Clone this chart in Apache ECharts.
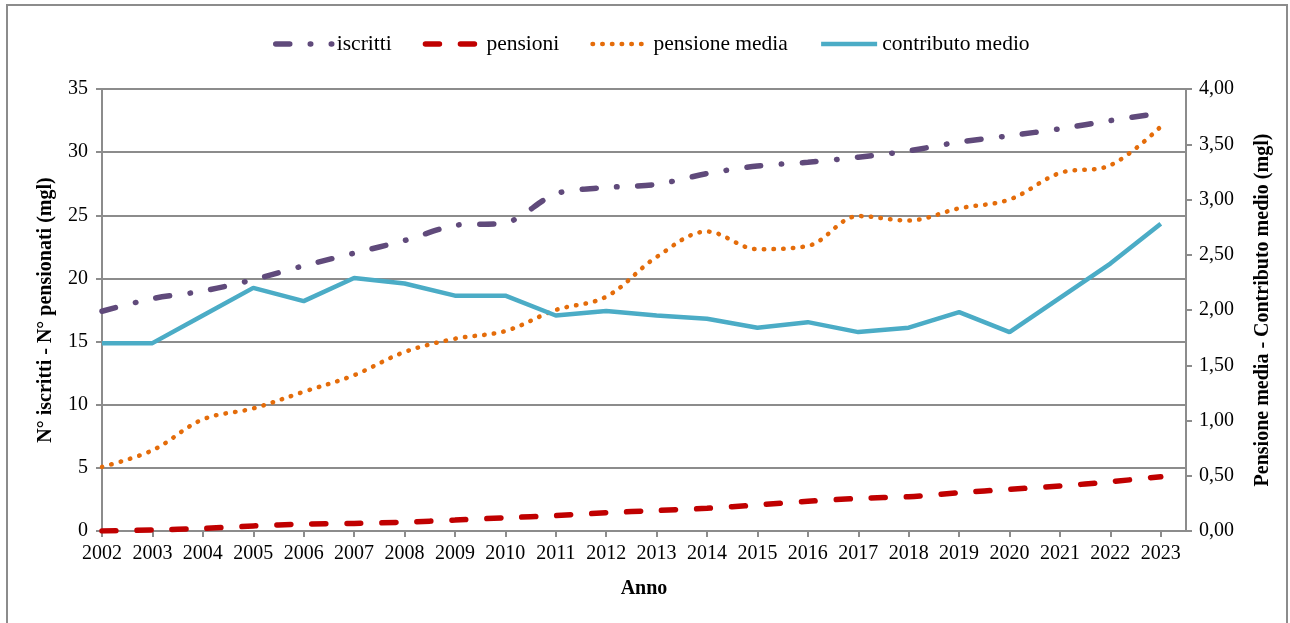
<!DOCTYPE html>
<html>
<head>
<meta charset="utf-8">
<script src="https://cdn.jsdelivr.net/npm/echarts@6/dist/echarts.min.js"></script>
<style>
html,body{margin:0;padding:0;background:#fff;}
#chart{width:1290px;height:623px;}
</style>
</head>
<body>
<div id="chart"></div>
<script>
var years = [2002,2003,2004,2005,2006,2007,2008,2009,2010,2011,2012,2013,2014,2015,2016,2017,2018,2019,2020,2021,2022,2023];
var iscritti = [17.4,18.4,19.0,19.9,21.0,22.0,23.0,24.2,24.4,26.7,27.2,27.45,28.3,28.9,29.2,29.6,30.1,30.8,31.3,31.85,32.5,33.1];
var pensioni = [0.0,0.08,0.2,0.4,0.55,0.6,0.7,0.87,1.05,1.22,1.45,1.62,1.8,2.06,2.35,2.58,2.72,3.03,3.3,3.56,3.9,4.3];
var pensioneMedia = [0.58,0.73,1.01,1.11,1.26,1.41,1.62,1.74,1.81,2.0,2.12,2.48,2.71,2.55,2.58,2.85,2.81,2.92,3.0,3.24,3.31,3.66];
var contributoMedio = [1.70,1.70,1.95,2.20,2.08,2.29,2.24,2.13,2.13,1.95,1.99,1.95,1.92,1.84,1.89,1.80,1.84,1.98,1.80,2.11,2.42,2.78];
var leftTicks = {min:0, max:35, interval:5};
var rightTicks = {min:0, max:4, interval:0.5};

function pairs(vals){ return years.map(function(y,i){ return [y, vals[i]]; }); }

var FONT = '"Liberation Serif","Times New Roman",serif';
var GRAY = '#8c8c8c';
var C_ISC = '#604A7B', C_PEN = '#C00000', C_MED = '#E46C0A', C_CON = '#4BACC6';
var LS_ISC = {color:C_ISC, width:5.5, type:[14,20.5,0.5,20.5], cap:'round'};
var LS_PEN = {color:C_PEN, width:5.5, type:[14,21], cap:'round'};
var LS_MED = {color:C_MED, width:4.5, type:[0.5,9.2], cap:'round'};
var LS_CON = {color:C_CON, width:4.5};

var chart = echarts.init(document.getElementById('chart'), null, {renderer:'canvas'});
chart.setOption({
  backgroundColor:'#fff',
  animation:false,
  textStyle:{fontFamily:FONT},
  graphic:[{type:'rect', shape:{x:7,y:5,width:1280,height:640}, style:{fill:'none', stroke:GRAY, lineWidth:2}, silent:true}],
  legend:{
    left:268, top:28, itemWidth:56, itemHeight:20, itemGap:31,
    textStyle:{fontFamily:FONT, fontSize:21.5, color:'#000'},
    itemStyle:{opacity:0},
    data:[
      {name:'iscritti', lineStyle:LS_ISC},
      {name:'pensioni', lineStyle:LS_PEN},
      {name:'pensione media', lineStyle:LS_MED},
      {name:'contributo medio', lineStyle:LS_CON}
    ]
  },
  grid:{left:102, right:104, top:89, bottom:92, containLabel:false},
  xAxis:{
    type:'value', min:years[0], max:years[years.length-1]+0.5, interval:1,
    name:'Anno', nameLocation:'middle', nameGap:48,
    nameTextStyle:{fontFamily:FONT, fontSize:20, fontWeight:'bold', color:'#000'},
    axisLine:{show:true, lineStyle:{color:GRAY, width:2}},
    axisTick:{show:true, length:6, customValues:years, lineStyle:{color:GRAY, width:2}},
    axisLabel:{fontFamily:FONT, fontSize:20, color:'#000', margin:13, customValues:years,
      formatter:function(v){ return Math.round(v)===v ? String(v) : ''; }},
    splitLine:{show:false}
  },
  yAxis:[{
    type:'value', min:leftTicks.min, max:leftTicks.max, interval:leftTicks.interval, position:'left',
    name:'N° iscritti - N° pensionati (mgl)', nameLocation:'middle', nameGap:46,
    nameTextStyle:{fontFamily:FONT, fontSize:20, fontWeight:'bold', color:'#000'},
    axisLine:{show:true, lineStyle:{color:GRAY, width:2}},
    axisTick:{show:true, length:6, lineStyle:{color:GRAY, width:2}},
    axisLabel:{fontFamily:FONT, fontSize:20, color:'#000', margin:14},
    splitLine:{show:true, lineStyle:{color:GRAY, width:2}}
  },{
    type:'value', min:rightTicks.min, max:rightTicks.max, interval:rightTicks.interval, position:'right',
    name:'Pensione media - Contributo medio (mgl)', nameLocation:'middle', nameGap:67,
    nameTextStyle:{fontFamily:FONT, fontSize:20, fontWeight:'bold', color:'#000'},
    axisLine:{show:true, lineStyle:{color:GRAY, width:2}},
    axisTick:{show:true, length:6, lineStyle:{color:GRAY, width:2}},
    axisLabel:{fontFamily:FONT, fontSize:20, color:'#000', margin:13,
      formatter:function(v){ return v.toFixed(2).replace('.', ','); }},
    splitLine:{show:false}
  }],
  series:[{
    name:'iscritti', type:'line', yAxisIndex:0, data:pairs(iscritti), symbol:'none', smooth:0.3,
    itemStyle:{color:C_ISC}, lineStyle:LS_ISC
  },{
    name:'pensioni', type:'line', yAxisIndex:0, data:pairs(pensioni), symbol:'none', smooth:0.3,
    itemStyle:{color:C_PEN}, lineStyle:LS_PEN
  },{
    name:'pensione media', type:'line', yAxisIndex:1, data:pairs(pensioneMedia), symbol:'none', smooth:0.35,
    itemStyle:{color:C_MED}, lineStyle:LS_MED
  },{
    name:'contributo medio', type:'line', yAxisIndex:1, data:pairs(contributoMedio), symbol:'none',
    itemStyle:{color:C_CON}, lineStyle:LS_CON
  }]
});
</script>
</body>
</html>
